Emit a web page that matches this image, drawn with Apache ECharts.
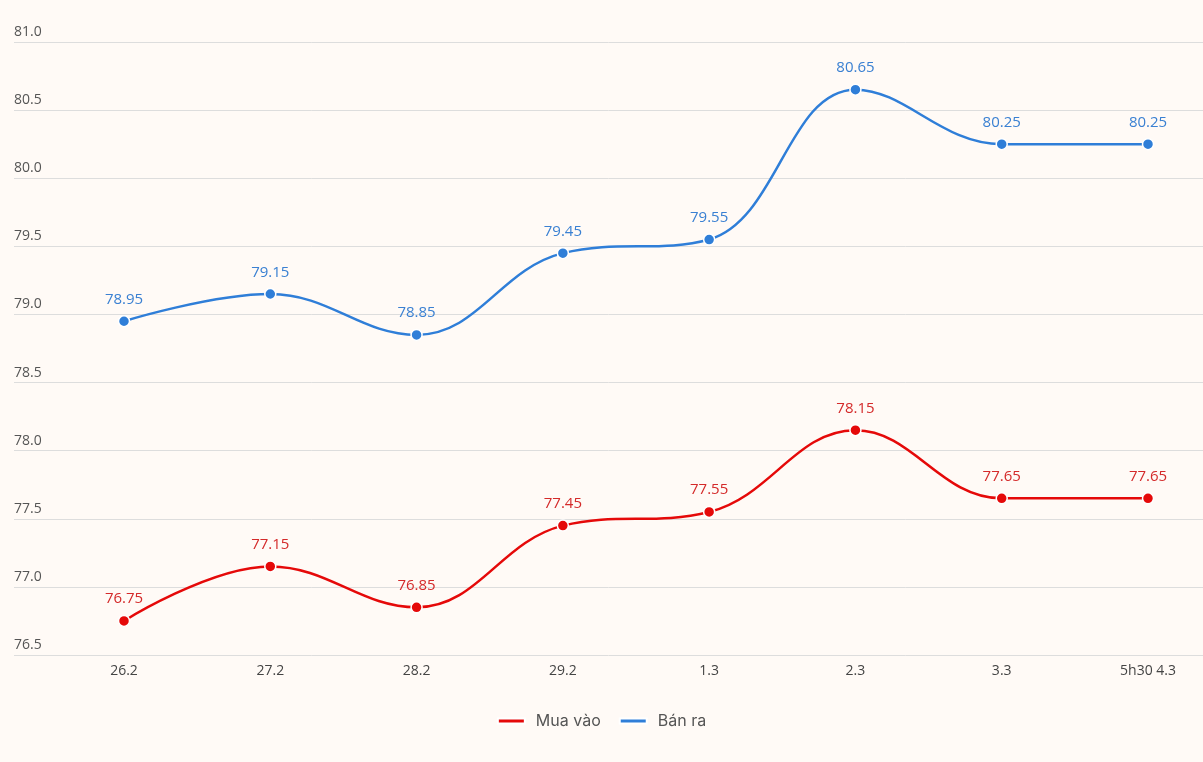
<!DOCTYPE html>
<html>
<head>
<meta charset="utf-8">
<script src="https://cdn.jsdelivr.net/npm/echarts@6/dist/echarts.min.js"></script>
<style>
html,body{margin:0;padding:0;background:#fffaf6;}
#c{width:1203px;height:762px;}
</style>
</head>
<body>
<div id="c"></div>
<script>
var categories = ['26.2','27.2','28.2','29.2','1.3','2.3','3.3','5h30 4.3'];
var muaVao = [76.75, 77.15, 76.85, 77.45, 77.55, 78.15, 77.65, 77.65];
var banRa = [78.95, 79.15, 78.85, 79.45, 79.55, 80.65, 80.25, 80.25];
var yMin = 76.5, yMax = 81.0, yStep = 0.5;

var chart = echarts.init(document.getElementById('c'));
var labelFont = '"Open Sans", Roboto, sans-serif';
function mkSeries(name, data, color, labelColor) {
  return {
    name: name, type: 'line', data: data, xAxisIndex: 1, yAxisIndex: 1,
    smooth: 0.4, symbol: 'circle', symbolSize: 11,
    lineStyle: {width: 2.5, color: color},
    itemStyle: {color: color, borderColor: '#ffffff', borderWidth: 1.5},
    label: {show: true, position: 'top', distance: 8, color: labelColor,
      fontSize: 15, fontFamily: labelFont, letterSpacing: -0.3,
      formatter: function(p){ return p.value.toFixed(2); }},
    emphasis: {disabled: true}
  };
}
chart.setOption({
  backgroundColor: '#fffaf6',
  animation: false,
  grid: [
    {left: 14, right: 0, top: 42, bottom: 107},
    {left: 124, right: 55, top: 42, bottom: 107}
  ],
  legend: {
    bottom: 28, left: 'center', itemWidth: 27, itemHeight: 5, itemGap: 18,
    icon: 'rect',
    textStyle: {color: '#555', fontSize: 16, fontFamily: 'Inter, "Open Sans", sans-serif', padding: [0,0,0,6]},
    data: [
      {name: 'Mua vào', icon: 'rect', itemStyle: {color: '#e50909'}},
      {name: 'Bán ra', icon: 'rect', itemStyle: {color: '#2f7ed8'}}
    ]
  },
  xAxis: [
    {gridIndex: 0, type: 'category', data: categories, show: false},
    {gridIndex: 1, type: 'category', data: categories, boundaryGap: false,
      axisLine: {show: false}, axisTick: {show: false}, splitLine: {show: false},
      axisLabel: {color: '#444', fontSize: 14, fontFamily: labelFont, margin: 9}}
  ],
  yAxis: [
    {gridIndex: 0, type: 'value', min: yMin, max: yMax, interval: yStep,
      axisLine: {show: false}, axisTick: {show: false},
      splitLine: {lineStyle: {color: '#dddddd', width: 1}},
      axisLabel: {inside: true, verticalAlign: 'bottom', margin: 0, padding: [0,0,3,0],
        color: '#555', fontSize: 14, fontFamily: labelFont,
        formatter: function(v){ return v.toFixed(1); }}},
    {gridIndex: 1, type: 'value', min: yMin, max: yMax, interval: yStep, show: false}
  ],
  series: [
    mkSeries('Mua vào', muaVao, '#e50909', '#d42a2a'),
    mkSeries('Bán ra', banRa, '#2f7ed8', '#3a80d2')
  ]
});
</script>
</body>
</html>
